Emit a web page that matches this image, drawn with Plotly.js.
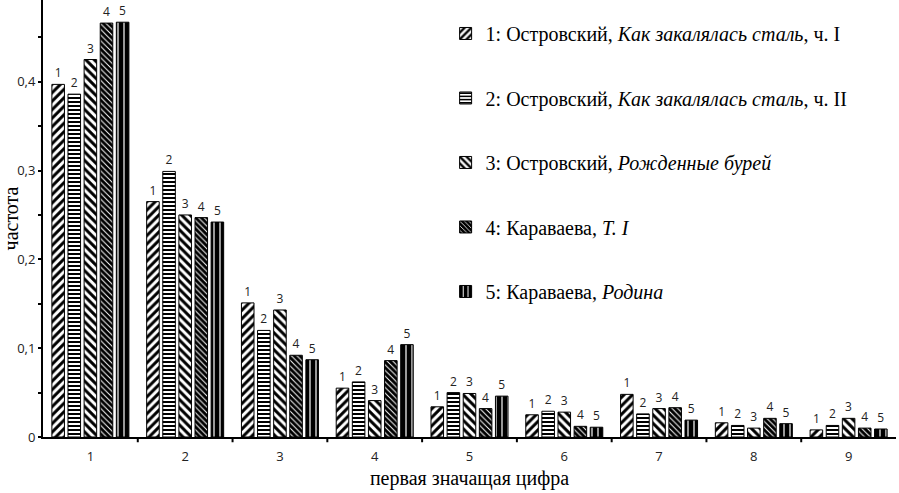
<!DOCTYPE html>
<html><head><meta charset="utf-8">
<script src="https://cdn.plot.ly/plotly-3.0.1.min.js"></script>
<style>body{margin:0;background:#fff}#c{width:899px;height:493px}</style>
</head><body><div id="c"></div>
<script>
const digits = [1,2,3,4,5,6,7,8,9];
const seriesNames = [
  "1: Островский, <i>Как закалялась сталь</i>, ч. I",
  "2: Островский, <i>Как закалялась сталь</i>, ч. II",
  "3: Островский, <i>Рожденные бурей</i>",
  "4: Караваева, <i>Т. I</i>",
  "5: Караваева, <i>Родина</i>"
];
const barLabels = ["1","2","3","4","5"];
const s1 = [0.397,0.265,0.151,0.055,0.034,0.025,0.048,0.016,0.008];
const s2 = [0.386,0.299,0.120,0.062,0.050,0.029,0.026,0.013,0.013];
const s3 = [0.425,0.250,0.143,0.041,0.049,0.028,0.032,0.010,0.021];
const s4 = [0.466,0.247,0.092,0.086,0.032,0.012,0.033,0.021,0.010];
const s5 = [0.467,0.242,0.087,0.104,0.046,0.011,0.019,0.015,0.009];
const allSeries = [s1,s2,s3,s4,s5];

const SERIF = "'Liberation Serif', 'Times New Roman', 'DejaVu Serif', serif";
const SANS = "'Open Sans', 'Liberation Sans', sans-serif";

const patterns = [
  {shape:"/", fgcolor:"#000", bgcolor:"#fff", size:6, solidity:0.5},
  {shape:"-", fgcolor:"#000", bgcolor:"#fff", size:4, solidity:0.5},
  {shape:"\\", fgcolor:"#000", bgcolor:"#fff", size:6, solidity:0.5},
  {shape:"\\", fgcolor:"#fff", bgcolor:"#000", size:4, solidity:0.25},
  {shape:"|", fgcolor:"#fff", bgcolor:"#000", size:6, solidity:0.2}
];

const traces = allSeries.map((vals,i)=>({
  type:"bar",
  x:digits,
  y:vals,
  name:seriesNames[i],
  legendgroup:"g"+i,
  text:digits.map(()=>barLabels[i]),
  textposition:"outside",
  cliponaxis:false,
  textfont:{family:SANS, size:12, color:"#222"},
  marker:{color:patterns[i].bgcolor, pattern:patterns[i], line:{color:"#000", width:1}},
  hoverinfo:"skip"
}));

const layout = {
  width:899, height:493,
  margin:{l:43, r:3, t:0, b:56},
  paper_bgcolor:"#fff", plot_bgcolor:"#fff",
  separators:", ",
  barmode:"group",
  bargap:0.15,
  bargroupgap:0.22,
  showlegend:true,
  legend:{
    x:0.472, y:0.968, xanchor:"left", yanchor:"top",
    font:{family:SERIF, size:20, color:"#000"},
    tracegroupgap:35.5, itemwidth:30, bgcolor:"rgba(0,0,0,0)"
  },
  xaxis:{
    type:"linear",
    range:[0.5,9.5],
    tickvals:digits,
    ticktext:digits.map(String),
    showgrid:false, zeroline:false,
    showline:true, linecolor:"#000", linewidth:2,
    ticks:"",
    ticklabelstandoff:6,
    tickfont:{family:SANS, size:13, color:"#222"},
    title:{text:"первая значащая цифра", font:{family:SERIF, size:20, color:"#000"}, standoff:7}
  },
  yaxis:{
    range:[0,0.492],
    tickvals:[0,0.1,0.2,0.3,0.4],
    ticktext:["0","0,1","0,2","0,3","0,4"],
    showgrid:false, zeroline:false,
    showline:true, linecolor:"#000", linewidth:2,
    ticks:"outside", ticklen:3, tickwidth:2, tickcolor:"#000",
    minor:{tickvals:[0.05,0.15,0.25,0.35,0.45], ticks:"outside", ticklen:3, tickwidth:2, tickcolor:"#000"},
    tickfont:{family:SANS, size:13, color:"#222"},
    title:{text:"частота", font:{family:SERIF, size:20, color:"#000"}, standoff:0}
  },
  shapes: [1.5,2.5,3.5,4.5,5.5,6.5,7.5,8.5].map(b=>({
    type:"line", xref:"x", yref:"paper", x0:b, x1:b, y0:0, y1:-0.012,
    line:{color:"#000", width:2}
  }))
};
Plotly.newPlot("c", traces, layout, {displayModeBar:false, staticPlot:true});
</script></body></html>
